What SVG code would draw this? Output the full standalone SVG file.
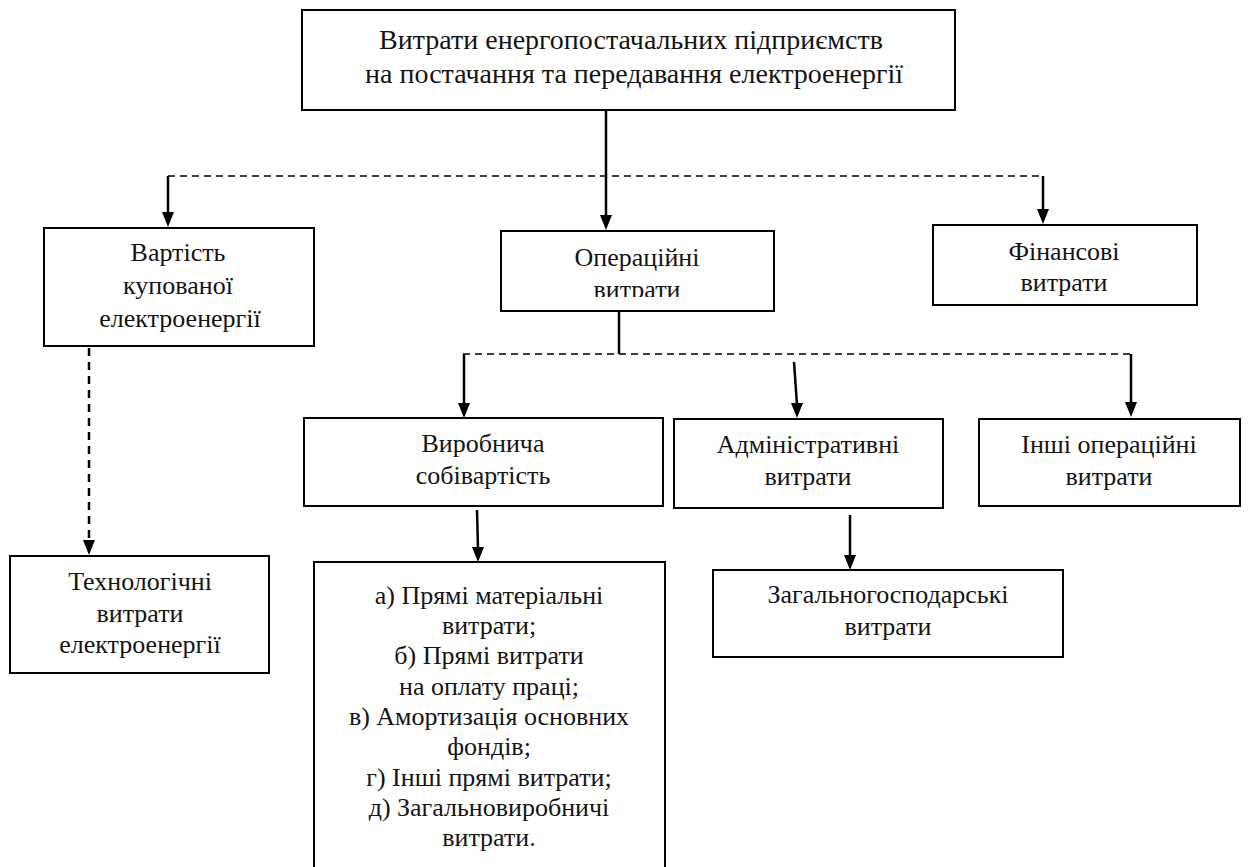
<svg xmlns="http://www.w3.org/2000/svg" width="1256" height="867" viewBox="0 0 1256 867">
<defs>
<clipPath id="clipOp"><rect x="500" y="232" width="274" height="65"/></clipPath>
<style>
.box{fill:#fff;stroke:#000;stroke-width:2}
.s{stroke:#000;stroke-width:2.5;fill:none}
.d{stroke:#000;stroke-width:1.5;fill:none;stroke-dasharray:7,5}
.dv{stroke:#000;stroke-width:2.5;fill:none;stroke-dasharray:8,6}
.ah{fill:#000}
</style>
</defs>
<rect width="1256" height="867" fill="#fff"/>
<g id="connectors">
<line class="s" x1="606" y1="110" x2="606" y2="216"/>
<path class="ah" d="M600,215 L612,215 L606,230 Z"/>
<line class="d" x1="168" y1="176" x2="1043" y2="176"/>
<line class="s" x1="168" y1="176" x2="168" y2="214"/>
<path class="ah" d="M162,212 L174,212 L168,227 Z"/>
<line class="s" x1="1043" y1="176" x2="1043" y2="211"/>
<path class="ah" d="M1037,209 L1049,209 L1043,224 Z"/>
<line class="s" x1="619" y1="311" x2="619" y2="354"/>
<line class="d" x1="463" y1="354" x2="1131" y2="354"/>
<line class="s" x1="464" y1="354" x2="464" y2="405"/>
<path class="ah" d="M458,403 L470,403 L464,418 Z"/>
<line class="s" x1="794" y1="362" x2="797" y2="405"/>
<path class="ah" d="M791,403 L803,403 L797,418 Z"/>
<line class="s" x1="1131" y1="354" x2="1131" y2="404"/>
<path class="ah" d="M1125,402 L1137,402 L1131,417 Z"/>
<line class="s" x1="477" y1="510" x2="478" y2="549"/>
<path class="ah" d="M472,547 L484,547 L478,562 Z"/>
<line class="s" x1="850" y1="515" x2="850" y2="556"/>
<path class="ah" d="M844,555 L856,555 L850,570 Z"/>
<line class="dv" x1="89" y1="348" x2="89" y2="540"/>
<path class="ah" d="M83,540 L95,540 L89,555 Z"/>
</g>
<g font-family="'Liberation Serif', 'Times New Roman', serif" font-size="26" text-anchor="middle" fill="#141414">
<g id="n-top">
<rect class="box" x="302" y="10" width="653" height="100"/>
<text x="631" y="49" font-size="28">Витрати енергопостачальних підприємств</text>
<text x="634" y="83" font-size="28">на постачання та передавання електроенергії</text>
</g>
<g id="n-vartist">
<rect class="box" x="44" y="228" width="270" height="118"/>
<text x="178" y="261">Вартість</text>
<text x="178" y="294">купованої</text>
<text x="180" y="327">електроенергії</text>
</g>
<g id="n-oper">
<rect class="box" x="501" y="231" width="273" height="80"/>
<text x="637" y="266">Операційні</text>
<text x="637" y="298" clip-path="url(#clipOp)">витрати</text>
</g>
<g id="n-fin">
<rect class="box" x="933" y="225" width="264" height="80"/>
<text x="1064" y="260">Фінансові</text>
<text x="1064" y="291">витрати</text>
</g>
<g id="n-vyrob">
<rect class="box" x="304" y="418" width="359" height="88"/>
<text x="483" y="452">Виробнича</text>
<text x="483" y="484">собівартість</text>
</g>
<g id="n-admin">
<rect class="box" x="674" y="419" width="269" height="89"/>
<text x="808" y="453">Адміністративні</text>
<text x="808" y="485">витрати</text>
</g>
<g id="n-inshi">
<rect class="box" x="979" y="419" width="261" height="87"/>
<text x="1109" y="453">Інші операційні</text>
<text x="1109" y="485">витрати</text>
</g>
<g id="n-list">
<rect class="box" x="314" y="562" width="351" height="320"/>
<text x="489" y="604">а) Прямі матеріальні</text>
<text x="489" y="634">витрати;</text>
<text x="489" y="664">б) Прямі витрати</text>
<text x="489" y="695">на оплату праці;</text>
<text x="489" y="725">в) Амортизація основних</text>
<text x="489" y="755">фондів;</text>
<text x="489" y="786">г) Інші прямі витрати;</text>
<text x="489" y="816">д) Загальновиробничі</text>
<text x="489" y="846">витрати.</text>
</g>
<g id="n-zag">
<rect class="box" x="713" y="570" width="350" height="87"/>
<text x="888" y="603">Загальногосподарські</text>
<text x="888" y="635">витрати</text>
</g>
<g id="n-tech">
<rect class="box" x="10" y="556" width="259" height="117"/>
<text x="140" y="590">Технологічні</text>
<text x="140" y="622">витрати</text>
<text x="140" y="653">електроенергії</text>
</g>
</g>
</svg>
